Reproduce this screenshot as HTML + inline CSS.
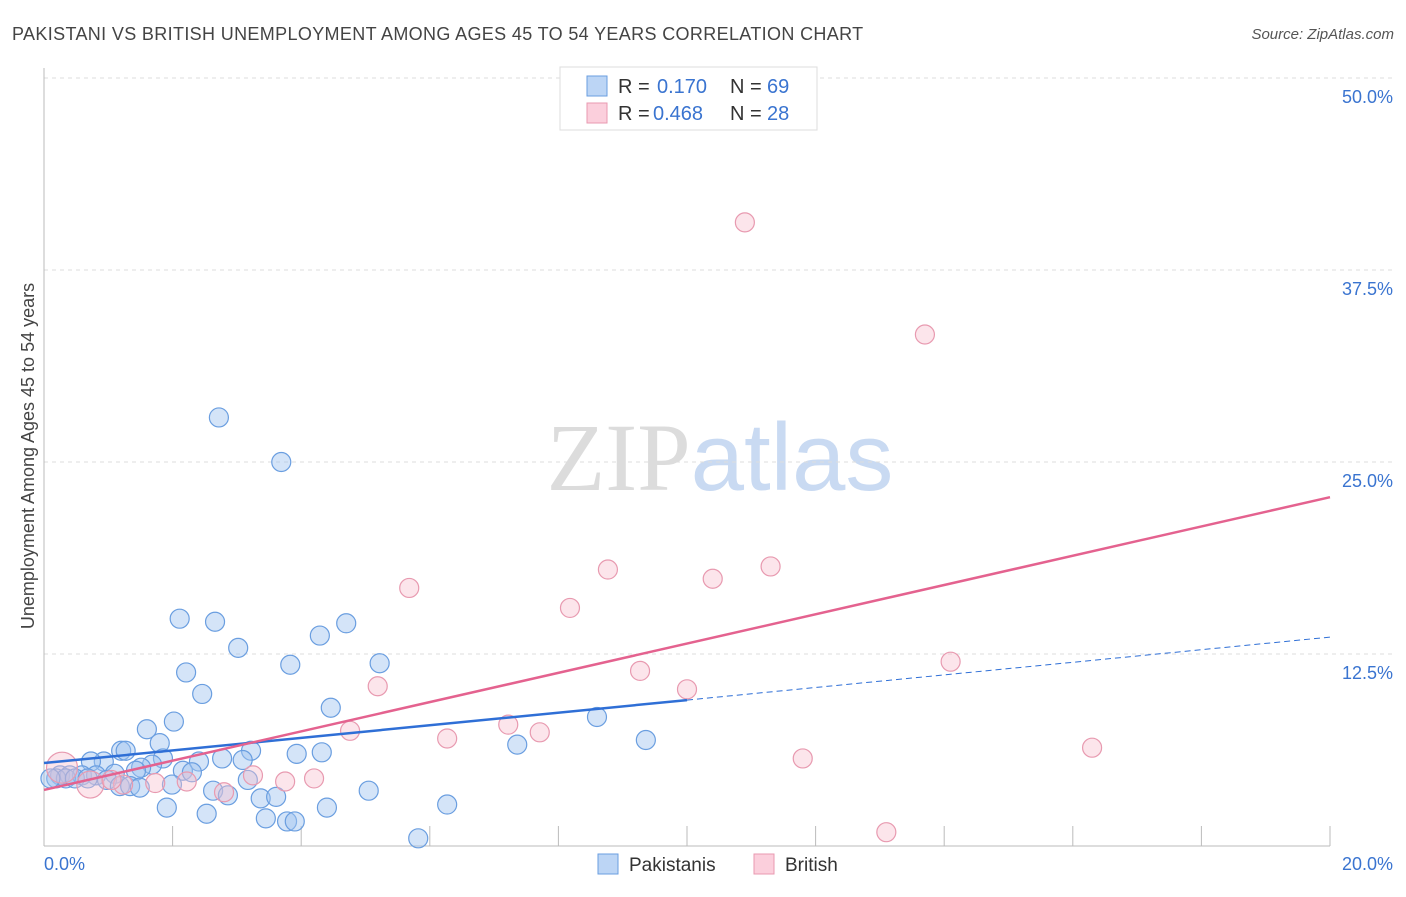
<!DOCTYPE html>
<html><head><meta charset="utf-8"><style>
body{margin:0;background:#fff;font-family:"Liberation Sans",sans-serif;}
svg text{font-family:"Liberation Sans",sans-serif;}
</style></head><body>
<svg id="chart" width="1406" height="892" viewBox="0 0 1406 892" xmlns="http://www.w3.org/2000/svg">
<text x="12" y="40" font-size="18" fill="#444" letter-spacing="0.35">PAKISTANI VS BRITISH UNEMPLOYMENT AMONG AGES 45 TO 54 YEARS CORRELATION CHART</text>
<text x="1394" y="39" font-size="15" fill="#555" text-anchor="end" font-style="italic">Source: ZipAtlas.com</text>
<text x="720" y="490" font-size="96" text-anchor="middle"><tspan fill="#dcdcdc" font-family="Liberation Serif">ZIP</tspan><tspan fill="#c9daf2">atlas</tspan></text>
<text transform="translate(34,456) rotate(-90)" font-size="18" fill="#444" text-anchor="middle">Unemployment Among Ages 45 to 54 years</text>
<g id="grid"></g>
<g id="axes"></g>
<g id="pts"></g>
<g id="trends"></g>
<g>
<rect x="560" y="67" width="257" height="63" fill="#fff" stroke="#ddd"/>
<rect x="587" y="76" width="20" height="20" fill="#bcd5f5" stroke="#6a9ee0"/>
<rect x="587" y="103" width="20" height="20" fill="#fbcfdc" stroke="#e89ab0"/>
<text x="618" y="93" font-size="20" fill="#333">R =</text><text x="657" y="93" font-size="20" fill="#3a74d0">0.170</text>
<text x="730" y="93" font-size="20" fill="#333">N =</text><text x="767" y="93" font-size="20" fill="#3a74d0">69</text>
<text x="618" y="120" font-size="20" fill="#333">R =</text><text x="653" y="120" font-size="20" fill="#3a74d0">0.468</text>
<text x="730" y="120" font-size="20" fill="#333">N =</text><text x="767" y="120" font-size="20" fill="#3a74d0">28</text>
</g>
<g>
<rect x="598" y="854" width="20" height="20" fill="#bcd5f5" stroke="#6a9ee0"/>
<text x="629" y="871" font-size="19" fill="#333">Pakistanis</text>
<rect x="754" y="854" width="20" height="20" fill="#fbcfdc" stroke="#e89ab0"/>
<text x="785" y="871" font-size="19" fill="#333">British</text>
</g>
</svg>
<script>
const yTicks=[12.5,25,37.5,50];
const yTickLabels=["12.5%","25.0%","37.5%","50.0%"];
const xEnds=["0.0%","20.0%"];
const pakX=[2.72,3.69,2.11,2.66,4.70,4.29,3.02,2.21,3.83,5.22,2.46,4.46,2.02,1.60,8.60,1.80,9.36,7.36,1.20,1.27,3.22,3.93,4.32,0.93,0.73,2.77,3.09,1.85,2.41,1.68,1.51,1.43,2.16,2.30,1.10,0.25,0.40,0.59,0.81,0.19,0.34,0.48,0.68,0.98,1.18,1.34,1.49,3.17,1.99,2.63,2.86,5.05,3.37,3.61,1.91,4.40,6.27,2.53,3.45,3.78,3.90,5.82,0.10];
const pakY=[27.9,25.0,14.8,14.6,14.5,13.7,12.9,11.3,11.8,11.9,9.9,9.0,8.1,7.6,8.4,6.7,6.9,6.6,6.2,6.2,6.2,6.0,6.1,5.5,5.5,5.7,5.6,5.7,5.5,5.3,5.1,4.9,4.9,4.8,4.7,4.6,4.6,4.6,4.6,4.4,4.4,4.4,4.4,4.3,3.9,3.9,3.8,4.3,4.0,3.6,3.3,3.6,3.1,3.2,2.5,2.5,2.7,2.1,1.8,1.6,1.6,0.5,4.4];
const briX=[10.9,13.7,5.68,8.77,11.3,10.4,8.18,14.1,9.27,5.19,10.0,7.22,4.76,6.27,7.71,1.23,16.3,11.8,3.25,3.75,4.20,2.22,1.73,2.80,13.1,0.28,0.72,1.05];
const briY=[40.6,33.3,16.8,18.0,18.2,17.4,15.5,12.0,11.4,10.4,10.2,7.9,7.5,7.0,7.4,4.0,6.4,5.7,4.6,4.2,4.4,4.2,4.1,3.5,0.9,5.1,4.0,4.3];
const briR=[10,10,10,10,10,10,10,10,10,10,10,10,10,10,10,10,10,10,10,10,10,10,10,10,10,16,14,10];
const pakTrend=[5.4,0.41], briTrend=[3.65,0.953];
const X=v=>44+v/20*1286, Y=v=>846-v/50*768;
const NS="http://www.w3.org/2000/svg";
function mk(t,a,p){const e=document.createElementNS(NS,t);for(const k in a)e.setAttribute(k,a[k]);p.appendChild(e);return e;}
const grid=document.getElementById('grid');
yTicks.forEach((t,i)=>{
 const l=mk('line',{x1:44,x2:1392,y1:Y(t),y2:Y(t),stroke:'#ddd','stroke-dasharray':'4,4'},grid);
 
 
 const tx=mk('text',{x:1393,y:Y(t)+25,'font-size':18,fill:'#3a74d0','text-anchor':'end'},grid);
 tx.textContent=yTickLabels[i];
 
 
});
const ax=document.getElementById('axes');
mk('line',{x1:44,x2:44,y1:68,y2:846,stroke:'#bbb'},ax);
mk('line',{x1:44,x2:1330,y1:846,y2:846,stroke:'#bbb'},ax);
for(let i=1;i<=10;i++){const t=mk('line',{x1:X(i*2),x2:X(i*2),y1:826,y2:846,stroke:'#bbb'},ax);}
[[0,44,'start'],[1,1393,'end']].forEach(([i,x,a])=>{const t=mk('text',{x:x,y:870,'font-size':18,fill:'#3a74d0','text-anchor':a},ax);t.textContent=xEnds[i];});
const pts=document.getElementById('pts');
pakX.forEach((v,i)=>{const c=mk('circle',{cx:X(v),cy:Y(pakY[i]),r:9.5,fill:'rgba(160,196,240,0.45)',stroke:'#6a9ee0','stroke-width':1.2},pts);
 
 });
briX.forEach((v,i)=>{const c=mk('circle',{cx:X(v),cy:Y(briY[i]),r:briR[i]-0.5,fill:'rgba(248,190,205,0.4)',stroke:'#e89ab0','stroke-width':1.2},pts);
 
 });
const tr=document.getElementById('trends');
const f=(t,x)=>t[0]+t[1]*x;
let l=mk('line',{x1:X(0),y1:Y(f(pakTrend,0)),x2:X(10),y2:Y(f(pakTrend,10)),stroke:'#2f6fd6','stroke-width':2.5},tr);


l=mk('line',{x1:X(10),y1:Y(f(pakTrend,10)),x2:X(20),y2:Y(f(pakTrend,20)),stroke:'#2f6fd6','stroke-width':1,'stroke-dasharray':'6,4'},tr);


l=mk('line',{x1:X(0),y1:Y(f(briTrend,0)),x2:X(20),y2:Y(f(briTrend,20)),stroke:'#e4628f','stroke-width':2.5},tr);


</script>
</body></html>
